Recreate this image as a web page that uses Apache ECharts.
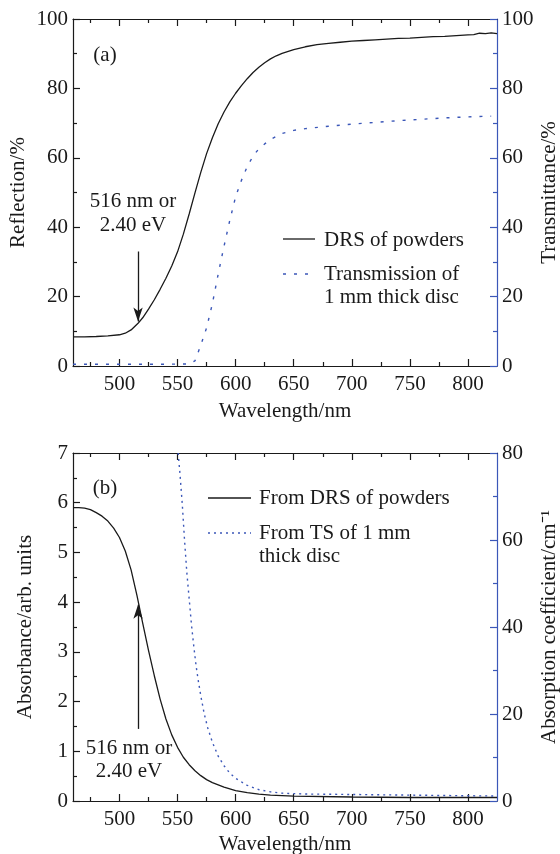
<!DOCTYPE html>
<html><head><meta charset="utf-8">
<script src="https://cdn.jsdelivr.net/npm/echarts@6/dist/echarts.min.js"></script>
<style>html,body{margin:0;padding:0;background:#fff}#c{width:560px;height:854px}</style>
</head><body><div id="c"></div>
<script>
const FONT = 'Liberation Serif';
const BLUE = '#3b57b8';
const INK = '#1a1a1a';

// tick labels / tick positions
const xTicksMajor = [500, 550, 600, 650, 700, 750, 800];
const xTicksMinor = [475, 525, 575, 625, 675, 725, 775];

// (a) Diffuse reflectance of powders, %
const wlDRS = [460,470,480,490,500,505,510,516,520,525,530,535,540,545,550,555,560,565,570,575,580,585,590,595,600,605,610,615,620,625,630,635,640,650,660,670,680,690,700,710,720,730,740,750,760,770,780,790,800,805,810,815,820,825];
const reflDRS = [8.4,8.4,8.5,8.7,9.0,9.45,10.4,12.3,13.9,16.4,19.1,22.1,25.3,28.8,32.9,38.0,43.8,49.9,55.8,61.2,65.8,69.8,73.2,76.1,78.6,80.8,82.8,84.6,86.1,87.4,88.5,89.4,90.1,91.2,92.0,92.6,93.0,93.3,93.6,93.8,94.0,94.2,94.4,94.5,94.7,94.9,95.0,95.2,95.4,95.5,95.9,95.8,96.0,95.8];

// (a) Transmission of 1 mm thick disc, %
const wlTrans = [460,480,500,520,540,560,565,570,575,580,585,590,595,600,605,610,615,620,625,630,640,650,660,680,700,720,740,760,780,800,820];
const transVal = [0.5,0.5,0.5,0.5,0.5,0.6,1.5,6.0,11.0,18.0,26.5,34.5,42.0,48.8,53.5,57.5,60.5,62.6,64.0,65.3,67.0,67.9,68.4,69.1,69.7,70.2,70.7,71.1,71.5,71.8,72.0];

// (b) Absorbance from DRS of powders, arb. units
const wlAbs = [460,465,470,475,480,485,490,495,500,505,510,515,520,525,530,535,540,545,550,555,560,565,570,575,580,590,600,610,620,630,650,700,750,800,825];
const absVal = [5.9,5.9,5.89,5.86,5.8,5.73,5.63,5.49,5.3,5.03,4.65,4.14,3.58,3.03,2.52,2.05,1.65,1.33,1.08,0.88,0.73,0.61,0.51,0.43,0.37,0.28,0.21,0.17,0.14,0.12,0.1,0.08,0.07,0.07,0.07];

// (b) Absorption coefficient from TS of 1 mm thick disc, cm^-1
const wlCoef = [550.5,552,554,556,558,560,562,564,566,568,570,573,576,580,585,590,595,600,610,620,630,640,660,700,750,800,825];
const coefVal = [80,75.5,68.5,60,52.5,46.5,40.5,35.5,31,27.4,24.2,20,16.8,13.5,10.3,8.1,6.4,5.2,3.6,2.6,2.1,1.8,1.6,1.5,1.35,1.2,1.15];

// band-gap arrow (wavelength, from, to) for each panel
const arrowWl = 516;
const arrowA = [33, 12.8];
const arrowB = [1.45, 3.95];

const pairs = (xs, ys) => xs.map((x, i) => [x, ys[i]]);

const txt = {fontFamily: FONT, fontSize: 21, color: INK};

function xAxes(gi, nameGap) {
  const base = {gridIndex: gi, type: 'value', min: 460, max: 825, splitLine: {show: false}};
  return [
    Object.assign({}, base, {
      position: 'bottom',
      axisLine: {show: true, lineStyle: {color: INK, width: 1.2}},
      axisTick: {show: true, inside: true, length: 7, customValues: xTicksMajor, lineStyle: {color: INK, width: 1.2}},
      axisLabel: {show: true, customValues: xTicksMajor, margin: 8, ...txt},
      name: 'Wavelength/nm', nameLocation: 'middle', nameGap: nameGap, nameMoveOverlap: false, nameTextStyle: txt
    }),
    Object.assign({}, base, {
      position: 'bottom',
      axisLine: {show: false},
      axisTick: {show: true, inside: true, length: 4, customValues: xTicksMinor, lineStyle: {color: INK, width: 1.2}},
      axisLabel: {show: false}
    }),
    Object.assign({}, base, {
      position: 'top',
      axisLine: {show: true, lineStyle: {color: INK, width: 1.2}},
      axisTick: {show: true, inside: true, length: 7, customValues: xTicksMajor, lineStyle: {color: INK, width: 1.2}},
      axisLabel: {show: false}
    }),
    Object.assign({}, base, {
      position: 'top',
      axisLine: {show: false},
      axisTick: {show: true, inside: true, length: 4, customValues: xTicksMinor, lineStyle: {color: INK, width: 1.2}},
      axisLabel: {show: false}
    })
  ];
}

function yAxis(gi, pos, min, max, interval, name, nameGap, color) {
  return {
    gridIndex: gi, type: 'value', position: pos, min: min, max: max, interval: interval,
    splitLine: {show: false},
    axisLine: {show: true, lineStyle: {color: color, width: 1.2}},
    axisTick: {show: true, inside: true, length: 7, lineStyle: {color: color, width: 1.2}},
    minorTick: {show: true, splitNumber: 2, length: 4, lineStyle: {color: color, width: 1.2}},
    minorSplitLine: {show: false},
    axisLabel: {margin: 5, ...txt},
    name: name, nameLocation: 'middle', nameRotate: 90, nameGap: nameGap, nameMoveOverlap: false, nameTextStyle: txt
  };
}

function gtext(text, x, y, align) {
  return {type: 'text', x: x, y: y, silent: true,
    style: {text: text, font: '21px "Liberation Serif"', fill: INK, textAlign: align || 'left', textVerticalAlign: 'middle'}};
}
function gline(x1, x2, y, color, dash) {
  return {type: 'line', silent: true, shape: {x1: x1, y1: y, x2: x2, y2: y},
    style: {stroke: color, lineWidth: 1.3, lineDash: dash || null}};
}

const arrowMark = (from, to) => ({
  silent: true, animation: false, symbol: ['none', 'arrow'], symbolSize: [7, 14],
  label: {show: false},
  lineStyle: {color: INK, width: 1.3, type: 'solid'},
  data: [[{coord: [arrowWl, from]}, {coord: [arrowWl, to]}]]
});

const lineBase = {type: 'line', symbol: 'none', smooth: false};

const option = {
  animation: false,
  backgroundColor: '#fff',
  grid: [
    {left: 73, right: 63, top: 19, height: 347, containLabel: false, outerBoundsMode: 'none'},
    {left: 73, right: 63, top: 453, height: 348, containLabel: false, outerBoundsMode: 'none'}
  ],
  xAxis: [...xAxes(0, 35), ...xAxes(1, 33)],
  yAxis: [
    yAxis(0, 'left', 0, 100, 20, 'Reflection/%', 44, INK),
    yAxis(0, 'right', 0, 100, 20, 'Transmittance/%', 42, BLUE),
    yAxis(1, 'left', 0, 7, 1, 'Absorbance/arb. units', 37, INK),
    yAxis(1, 'right', 0, 80, 20, 'Absorption coefficient/cm⁻¹', 42, BLUE)
  ],
  series: [
    Object.assign({}, lineBase, {xAxisIndex: 0, yAxisIndex: 0, data: pairs(wlDRS, reflDRS),
     lineStyle: {color: INK, width: 1.3}, markLine: arrowMark(arrowA[0], arrowA[1])}),
    Object.assign({}, lineBase, {xAxisIndex: 0, yAxisIndex: 1, data: pairs(wlTrans, transVal),
     lineStyle: {color: BLUE, width: 1.4, type: [3, 8]}}),
    Object.assign({}, lineBase, {xAxisIndex: 4, yAxisIndex: 2, data: pairs(wlAbs, absVal),
     lineStyle: {color: INK, width: 1.3}, markLine: arrowMark(arrowB[0], arrowB[1])}),
    Object.assign({}, lineBase, {xAxisIndex: 4, yAxisIndex: 3, data: pairs(wlCoef, coefVal),
     lineStyle: {color: BLUE, width: 1.4, type: [2, 4]}})
  ],
  graphic: [
    gtext('(a)', 105, 55, 'center'),
    gtext('516 nm or', 133, 201, 'center'),
    gtext('2.40 eV', 133, 225, 'center'),
    gline(283, 315, 239, INK),
    gtext('DRS of powders', 324, 240),
    gline(283, 312, 274, BLUE, [3, 8]),
    gtext('Transmission of', 324, 274),
    gtext('1 mm thick disc', 324, 297),
    gtext('(b)', 105, 488, 'center'),
    gtext('516 nm or', 129, 748, 'center'),
    gtext('2.40 eV', 129, 771, 'center'),
    gline(208, 251, 498, INK),
    gtext('From DRS of powders', 259, 498),
    gline(208, 251, 533, BLUE, [2, 4]),
    gtext('From TS of 1 mm', 259, 533),
    gtext('thick disc', 259, 556)
  ]
};

const chart = echarts.init(document.getElementById('c'), null, {renderer: 'canvas'});
chart.setOption(option);
</script></body></html>
